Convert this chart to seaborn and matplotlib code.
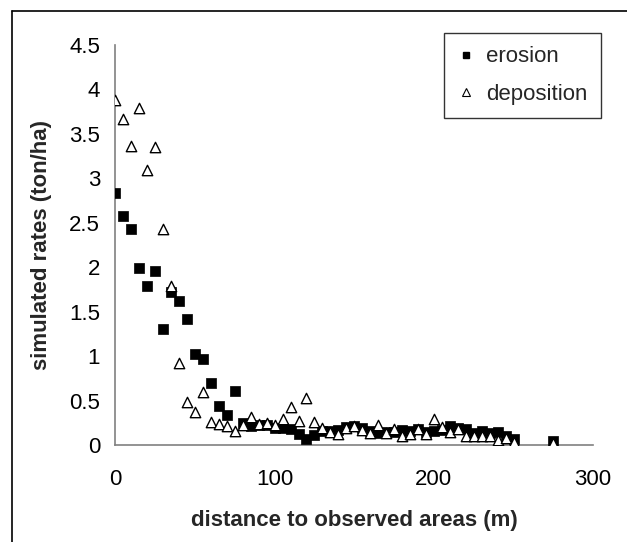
import numpy as np
import pandas as pd
import matplotlib
matplotlib.use("Agg")
import matplotlib.pyplot as plt
from matplotlib.lines import Line2D
import seaborn as sns

distance = [0, 5, 10, 15, 20, 25, 30, 35, 40, 45, 50, 55, 60, 65, 70, 75, 80, 85, 90, 95,
            100, 105, 110, 115, 120, 125, 130, 135, 140, 145, 150, 155, 160, 165, 170, 175,
            180, 185, 190, 195, 200, 205, 210, 215, 220, 225, 230, 235, 240, 245, 250, 275]

erosion = [2.84, 2.58, 2.43, 1.99, 1.79, 1.96, 1.30, 1.72, 1.62, 1.42, 1.02, 0.97, 0.70, 0.44,
           0.34, 0.61, 0.25, 0.21, 0.23, 0.22, 0.19, 0.19, 0.18, 0.12, 0.07, 0.11, 0.16, 0.16,
           0.17, 0.20, 0.21, 0.19, 0.16, 0.14, 0.15, 0.15, 0.17, 0.16, 0.18, 0.15, 0.16, 0.17,
           0.21, 0.19, 0.18, 0.14, 0.16, 0.13, 0.15, 0.10, 0.07, 0.04]

deposition = [3.88, 3.67, 3.36, 3.79, 3.09, 3.35, 2.43, 1.79, 0.92, 0.48, 0.37, 0.60, 0.26, 0.24,
              0.21, 0.16, 0.22, 0.31, 0.24, 0.25, 0.22, 0.29, 0.43, 0.27, 0.53, 0.26, 0.19, 0.15,
              0.12, 0.19, 0.21, 0.17, 0.14, 0.23, 0.13, 0.18, 0.10, 0.12, 0.18, 0.12, 0.29, 0.20,
              0.15, 0.18, 0.10, 0.10, 0.10, 0.10, 0.06, 0.08, 0.03, 0.02]

x_ticks = [0, 100, 200, 300]
y_ticks = [0, 0.5, 1, 1.5, 2, 2.5, 3, 3.5, 4, 4.5]
y_tick_labels = ["0", "0.5", "1", "1.5", "2", "2.5", "3", "3.5", "4", "4.5"]

sns.set_theme(style="white")
plt.rcParams["font.family"] = ["Liberation Sans", "DejaVu Sans"]

df_e = pd.DataFrame({"distance": distance, "rate": erosion})
df_d = pd.DataFrame({"distance": distance, "rate": deposition})

fig = plt.figure(figsize=(6.27, 5.42), dpi=100)
ax = fig.add_axes([0.184, 0.179, 0.762, 0.738])

sns.scatterplot(data=df_e, x="distance", y="rate", ax=ax, marker="s", s=44,
                color="black", edgecolor="black", linewidth=0.5, label="erosion", zorder=3)
sns.scatterplot(data=df_d, x="distance", y="rate", ax=ax, marker="^", s=56,
                facecolor="white", edgecolor="black", linewidth=1.0, label="deposition", zorder=4)

ax.set_xlim(0, 300)
ax.set_ylim(0, 4.5)
ax.set_xticks(x_ticks)
ax.set_yticks(y_ticks)
ax.set_yticklabels(y_tick_labels)

for s in ["top", "right"]:
    ax.spines[s].set_visible(False)
for s in ["left", "bottom"]:
    ax.spines[s].set_color("#808080")
    ax.spines[s].set_linewidth(1.2)

ax.tick_params(axis="both", which="major", direction="out", length=5, width=1.0,
               color="#808080", labelsize=16, labelcolor="black")
ax.tick_params(axis="x", pad=12)
ax.tick_params(axis="y", pad=6)

ax.set_xlabel("distance to observed areas (m)", fontsize=16, fontweight="bold", labelpad=15)
ax.set_ylabel("simulated rates (ton/ha)", fontsize=16, fontweight="bold", labelpad=12)

handles = [
    Line2D([], [], marker="s", linestyle="none", markersize=5, markerfacecolor="black",
           markeredgecolor="black"),
    Line2D([], [], marker="^", linestyle="none", markersize=6, markerfacecolor="white",
           markeredgecolor="black", markeredgewidth=0.8),
]
leg = ax.legend(handles, ["erosion", "deposition"], loc="upper left",
                bbox_to_anchor=(0.708, 0.939), bbox_transform=fig.transFigure,
                frameon=True, fancybox=False, edgecolor="black", fontsize=16,
                handlelength=0.8, handletextpad=0.5, labelspacing=0.75,
                borderpad=0.6, borderaxespad=0)
leg.get_frame().set_linewidth(1.0)

# partial chart-area border (top and left)
fig.add_artist(Line2D([12 / 627, 1.0], [1 - 10.7 / 542, 1 - 10.7 / 542],
                      transform=fig.transFigure, color="black", linewidth=1.2))
fig.add_artist(Line2D([12 / 627, 12 / 627], [0.0, 1 - 10.7 / 542],
                      transform=fig.transFigure, color="black", linewidth=1.2))

fig.savefig("out.png", dpi=100)
